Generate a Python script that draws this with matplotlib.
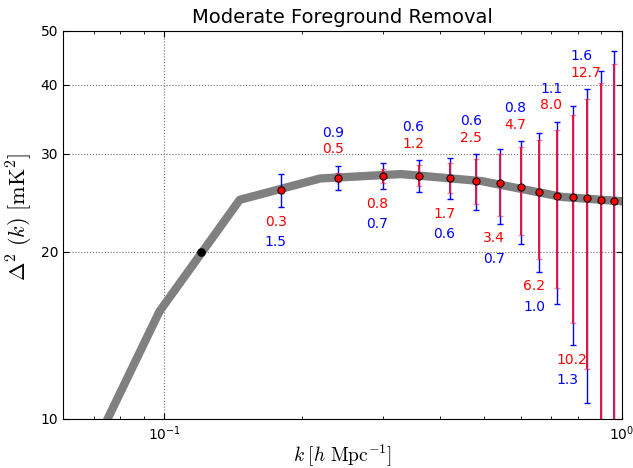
import matplotlib
matplotlib.use("Agg")
import matplotlib.pyplot as plt
from matplotlib.ticker import FixedLocator, FixedFormatter, NullLocator, LogLocator

# model curve (grey line)
k_model = [0.065, 0.0975, 0.146, 0.219, 0.329, 0.494, 0.74, 1.11]
pk_model = [7.8, 15.6, 24.8, 27.1, 27.6, 26.8, 25.1, 24.5]

# point without error bars
k_black = [0.12]
pk_black = [20.0]

# binned points with errors
k_pts = [0.18, 0.24, 0.30, 0.36, 0.42, 0.48, 0.54, 0.60, 0.66, 0.72, 0.78, 0.84, 0.90, 0.96]
pk_pts = [25.84, 27.19, 27.42, 27.42, 27.16, 26.85, 26.56, 26.16, 25.59, 25.20, 25.06, 24.96, 24.75, 24.68]
err_red = [0.3, 0.5, 0.8, 1.2, 1.7, 2.5, 3.4, 4.7, 6.2, 8.0, 10.2, 12.7, 15.6, 19.0]
err_blue = [1.5, 0.9, 0.7, 0.6, 0.6, 0.6, 0.7, 0.8, 1.0, 1.1, 1.3, 1.6, 2.0, 2.3]
n_labeled = 12

y_ticks = [10, 20, 30, 40, 50]


def main():
    plt.rcParams["mathtext.fontset"] = "cm"
    plt.rcParams["font.family"] = "DejaVu Sans"
    fig = plt.figure(figsize=(6.33, 4.68), dpi=100)
    ax = fig.add_axes([63 / 633, 1 - 418.5 / 468, (622 - 63) / 633, (418.5 - 31) / 468])
    plot_data(ax)
    set_properties(ax)
    fig.savefig("out.png", dpi=100)


def plot_data(ax):
    ax.plot(k_model, pk_model, color="gray", lw=6, solid_capstyle="butt", zorder=2)
    ax.plot(k_black, pk_black, "o", color="k", ms=5.2, zorder=3)

    err_tot = [r + b for r, b in zip(err_red, err_blue)]
    blue = ax.errorbar(k_pts, pk_pts, yerr=err_tot, fmt="none", ecolor="b", elinewidth=1,
                       capsize=2.5, capthick=1, zorder=4)
    red = ax.errorbar(k_pts, pk_pts, yerr=err_red, fmt="none", ecolor="#e2163f",
                      elinewidth=1.4, capsize=2.5, capthick=1, zorder=5)
    for coll in list(blue[2]) + list(red[2]):
        coll.set_snap(True)
    for cap in red[1]:
        cap.set_alpha(0.5)
    ax.plot(k_pts, pk_pts, "o", color="r", mec="k", mew=0.7, ms=5.2, zorder=6)

    for i in range(n_labeled):
        k, p, r, b = k_pts[i], pk_pts[i], err_red[i], err_blue[i]
        if i % 2 == 1:
            top = p + r + b
            ax.annotate(f"{r:.1f}", (k, top), xytext=(-16.5, 16.5), textcoords="offset pixels",
                        color="r", ha="left", va="center", fontsize=10)
            ax.annotate(f"{b:.1f}", (k, top), xytext=(-16.5, 33), textcoords="offset pixels",
                        color="b", ha="left", va="center", fontsize=10)
        else:
            bot = p - r - b
            ax.annotate(f"{r:.1f}", (k, bot), xytext=(-16.5, -14.5), textcoords="offset pixels",
                        color="r", ha="left", va="center", fontsize=10)
            ax.annotate(f"{b:.1f}", (k, bot), xytext=(-16.5, -35), textcoords="offset pixels",
                        color="b", ha="left", va="center", fontsize=10)


def set_properties(ax):
    ax.set_xscale("log")
    ax.set_yscale("log")
    ax.set_xlim(0.06, 1.0)
    ax.set_ylim(10, 50)
    ax.yaxis.set_major_locator(FixedLocator(y_ticks))
    ax.yaxis.set_major_formatter(FixedFormatter([str(t) for t in y_ticks]))
    ax.yaxis.set_minor_locator(NullLocator())
    ax.xaxis.set_minor_locator(LogLocator(base=10, subs=range(2, 10)))
    ax.tick_params(which="both", direction="in", top=True, right=True, labelsize=10)
    ax.tick_params(which="major", length=4, width=0.8)
    ax.tick_params(which="minor", length=2.3, width=0.6)
    ax.tick_params(axis="x", pad=4)
    ax.grid(True, which="major", color="0.45", linestyle=":", linewidth=0.8)
    ax.set_axisbelow(True)
    ax.set_xlabel(r"$k\;[h\ \mathrm{Mpc}^{-1}]$", fontsize=14, labelpad=0.5)
    ax.set_ylabel(r"$\Delta^2\ (k)\ [\mathrm{mK}^2]$", fontsize=16)
    ax.yaxis.set_label_coords(-0.05, 0.52)
    ax.set_title("Moderate Foreground Removal", fontsize=14)


if __name__ == "__main__":
    main()
